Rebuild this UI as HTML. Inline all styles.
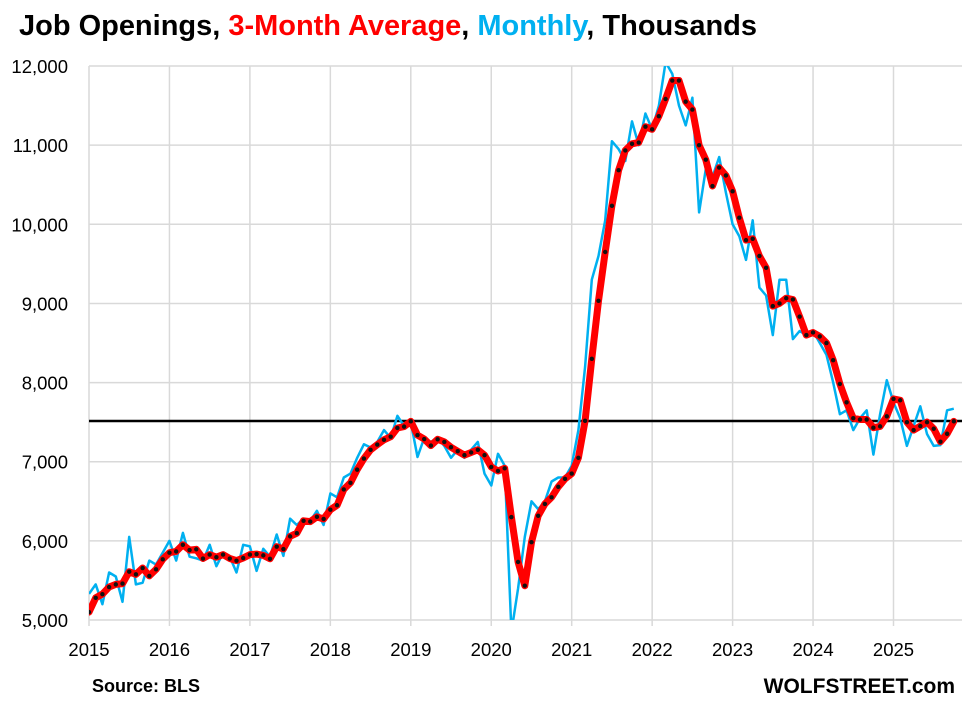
<!DOCTYPE html>
<html><head><meta charset="utf-8"><style>
body{margin:0;background:#fff;}
svg{display:block;font-family:"Liberation Sans",sans-serif;}
</style></head><body>
<svg id="c" width="971" height="707" xmlns="http://www.w3.org/2000/svg">
<text x="19" y="35" font-size="28.5" font-weight="bold" fill="#000" textLength="738" lengthAdjust="spacingAndGlyphs">Job Openings, <tspan fill="#ff0000">3-Month Average</tspan>, <tspan fill="#00b0f0">Monthly</tspan>, Thousands</text>
<g id="grid" stroke="#d9d9d9" stroke-width="1.5"></g>
<g id="lab" font-size="18.5" fill="#000"></g>
<line x1="89" y1="421" x2="962" y2="421" stroke="#000" stroke-width="2.5"/>
<g id="ser"></g>
<text x="92" y="692" font-size="18" font-weight="bold">Source: BLS</text>
<text x="955" y="693" font-size="21" font-weight="bold" text-anchor="end">WOLFSTREET.com</text>
</svg>
<script>
var ns="http://www.w3.org/2000/svg";
function el(p,t,a,txt){var e=document.createElementNS(ns,t);for(var k in a)e.setAttribute(k,a[k]);if(txt)e.textContent=txt;p.appendChild(e);return e;}
var X0=89,XR=962,mw=80.45/12;
function Y(v){return 620-(v-5000)*0.07914;}
function Xm(i){return X0+i*mw;}
var g=document.getElementById('grid'),lab=document.getElementById('lab');
for(var v=5000;v<=12000;v+=1000){el(g,'line',{x1:X0,x2:XR,y1:Y(v),y2:Y(v)});
 el(lab,'text',{x:68,y:Y(v)+7,'text-anchor':'end'},v.toLocaleString('en-US'));}
for(var y=0;y<=10;y++){var x=X0+y*80.45;el(g,'line',{x1:x,x2:x,y1:Y(12000),y2:626});
 el(lab,'text',{x:x,y:656,'text-anchor':'middle'},String(2015+y));}
var b=[5330,5450,5200,5600,5550,5230,6050,5450,5470,5750,5700,5850,
6000,5750,6100,5800,5780,5750,5950,5680,5850,5800,5600,5950,
5930,5620,5900,5800,6080,5810,6280,6200,6280,6250,6380,6200,
6600,6550,6800,6850,7050,7220,7180,7250,7400,7300,7580,7450,
7500,7060,7300,7250,7300,7200,7050,7150,7050,7150,7250,6850,
6700,7100,6950,4850,5400,6050,6500,6400,6500,6750,6800,6800,
6950,7400,8200,9300,9600,10050,11050,10950,10800,11300,11000,11400,
11200,11500,12050,11900,11500,11250,11600,10150,10700,10600,10850,10400,
10000,9850,9550,10050,9200,9100,8600,9300,9300,8550,8650,8600,
8650,8500,8350,8000,7600,7650,7400,7550,7650,7090,7600,8030,
7750,7550,7200,7450,7700,7350,7200,7210,7650,7670];
var r=[];for(var i=0;i<b.length;i++){if(i<2)r.push(i==0?5100:5280);else r.push((b[i]+b[i-1]+b[i-2])/3);}
var s=document.getElementById('ser');
var cp=el(document.querySelector('svg'),'clipPath',{id:'cl'});el(cp,'rect',{x:X0,y:Y(12000),width:XR-X0,height:Y(5000)-Y(12000)});
s.setAttribute('clip-path','url(#cl)');
function pts(a){return a.map(function(v,i){return Xm(i).toFixed(1)+','+Y(v).toFixed(1);}).join(' ');}
el(s,'polyline',{points:pts(b),fill:'none',stroke:'#00b0f0','stroke-width':2.5,'stroke-linejoin':'round'});
el(s,'polyline',{points:pts(r),fill:'none',stroke:'#ff0000','stroke-width':7,'stroke-linejoin':'round','stroke-linecap':'round'});
r.forEach(function(v,i){el(s,'circle',{cx:Xm(i),cy:Y(v),r:2.2,fill:'#111'});});
</script>
</body></html>
